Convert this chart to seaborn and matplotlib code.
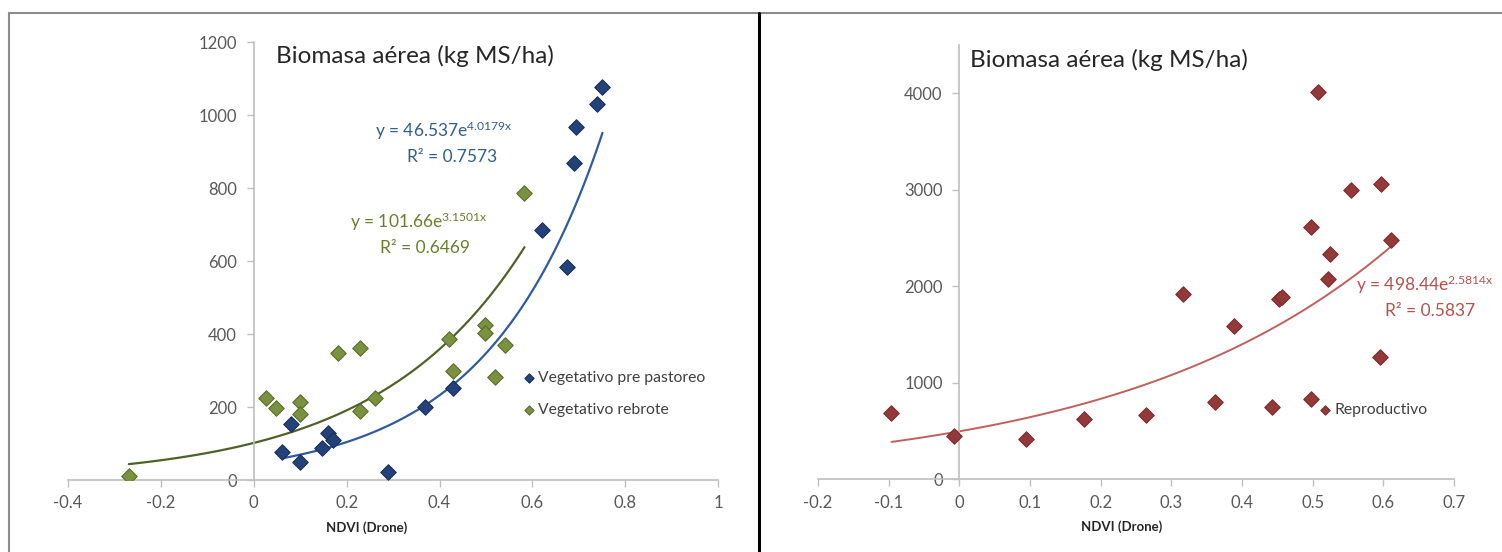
import numpy as np
import pandas as pd
import matplotlib
matplotlib.use('Agg')
import matplotlib.pyplot as plt
from matplotlib.lines import Line2D
from matplotlib.ticker import FuncFormatter
import seaborn as sns

# Vegetativo pre pastoreo
pre_x = [0.060, 0.081, 0.099, 0.148, 0.160, 0.171, 0.290, 0.369, 0.430, 0.620, 0.674, 0.690, 0.693, 0.740, 0.751]
pre_y = [78, 153, 50, 87, 128, 110, 21, 200, 251, 685, 584, 868, 968, 1030, 1077]

# Vegetativo rebrote
reb_x = [-0.269, 0.027, 0.047, 0.099, 0.099, 0.181, 0.229, 0.229, 0.261, 0.420, 0.429, 0.499, 0.499, 0.519, 0.540, 0.583]
reb_y = [11, 224, 196, 214, 181, 349, 363, 190, 224, 385, 299, 424, 404, 281, 370, 787]

# Reproductivo
rep_x = [-0.096, -0.008, 0.095, 0.176, 0.264, 0.316, 0.362, 0.389, 0.443, 0.452, 0.456, 0.498, 0.498,
         0.508, 0.522, 0.524, 0.554, 0.595, 0.597, 0.611]
rep_y = [687, 452, 417, 628, 670, 1926, 798, 1587, 746, 1870, 1895, 833, 2615,
         4010, 2079, 2331, 2999, 1269, 3058, 2480]

# exponential trendlines y = a*e^(b*x) as reported in the chart
pre_fit = (46.537, 4.0179, 0.7573)
reb_fit = (101.66, 3.1501, 0.6469)
rep_fit = (498.44, 2.5814, 0.5837)

sns.set_style('white')
plt.rcParams['font.family'] = ['Lato', 'DejaVu Sans']
plt.rcParams['mathtext.fontset'] = 'custom'
plt.rcParams['mathtext.rm'] = 'Lato'
plt.rcParams['mathtext.it'] = 'Lato'
plt.rcParams['axes.unicode_minus'] = False

blue = '#24427a'
green = '#7a9140'
red = '#93393a'
spine_c = '#bfbfbf'
tick_c = '#595959'


def trend(x, fit):
    xs = np.linspace(min(x), max(x), 100)
    return pd.DataFrame({'x': xs, 'y': fit[0] * np.exp(fit[1] * xs)})


def style_axis(ax, xticks, yticks, xlim, ylim):
    ax.set_xlim(*xlim)
    ax.set_ylim(*ylim)
    ax.set_xticks(xticks)
    ax.set_yticks(yticks)
    ax.xaxis.set_major_formatter(FuncFormatter(lambda v, p: f'{round(v, 2):g}'))
    ax.spines['left'].set_position(('data', 0))
    ax.spines['right'].set_visible(False)
    ax.spines['top'].set_visible(False)
    for s in ['left', 'bottom']:
        ax.spines[s].set_color(spine_c)
        ax.spines[s].set_linewidth(1.2)
    ax.tick_params(axis='both', which='major', direction='out', length=5, width=1,
                   color=spine_c, labelcolor=tick_c, labelsize=12, pad=6,
                   bottom=True, left=True)
    ax.tick_params(axis='y', pad=7)
    ax.set_ylabel('')
    ax.set_xlabel('NDVI (Drone)', fontsize=9.5, fontweight='bold', color='#262626')


fig = plt.figure(figsize=(15.02, 5.52), dpi=100)
ax1 = fig.add_axes([0.0453, 0.1304, 0.4328, 0.7935])
ax2 = fig.add_axes([0.5446, 0.1314, 0.4234, 0.7870])

# left panel
sns.lineplot(data=trend(pre_x, pre_fit), x='x', y='y', ax=ax1, color='#2e5c9e', lw=1.6)
sns.lineplot(data=trend(reb_x, reb_fit), x='x', y='y', ax=ax1, color='#4f6228', lw=1.6)
sns.scatterplot(x=pre_x, y=pre_y, ax=ax1, marker='D', s=62, color=blue, edgecolor='#1a2f57',
                linewidth=0.8, label='Vegetativo pre pastoreo', zorder=3)
sns.scatterplot(x=reb_x, y=reb_y, ax=ax1, marker='D', s=62, color=green, edgecolor='#5a6d2c',
                linewidth=0.8, label='Vegetativo rebrote', zorder=3)
style_axis(ax1, np.arange(-0.4, 1.01, 0.2), np.arange(0, 1201, 200), (-0.4, 1.0), (0, 1200))
ax1.xaxis.set_label_coords(0.46, -0.095)
ax1.text(0.32, 0.968, 'Biomasa aérea (kg MS/ha)', transform=ax1.transAxes,
         fontsize=17.5, color='#262626', va='center', ha='left')
ax1.text(0.41, 956, r'y = 46.537e$^{4.0179x}$', fontsize=12.5, color='#2f5f8f', ha='center', va='center')
ax1.text(0.428, 885, f'R² = {pre_fit[2]}', fontsize=12.5, color='#2f5f8f', ha='center', va='center')
ax1.text(0.356, 707, r'y = 101.66e$^{3.1501x}$', fontsize=12.5, color='#6b7d2f', ha='center', va='center')
ax1.text(0.369, 636, f'R² = {reb_fit[2]}', fontsize=12.5, color='#6b7d2f', ha='center', va='center')
leg1 = ax1.legend(loc='upper left', bbox_to_anchor=(0.697, 0.248), frameon=False, fontsize=11.3,
                  handletextpad=0.1, handlelength=1.0, markerscale=0.6, labelspacing=1.15,
                  borderaxespad=0, borderpad=0)
for t in leg1.get_texts():
    t.set_color('#404040')

# right panel
sns.lineplot(data=trend(rep_x, rep_fit), x='x', y='y', ax=ax2, color='#c0605d', lw=1.4)
sns.scatterplot(x=rep_x, y=rep_y, ax=ax2, marker='D', s=62, color=red, edgecolor='#7a2c2c',
                linewidth=0.8, label='Reproductivo', zorder=3)
style_axis(ax2, np.arange(-0.2, 0.71, 0.1), np.arange(0, 4001, 1000), (-0.2, 0.7), (0, 4500))
ax2.xaxis.set_label_coords(0.478, -0.095)
ax2.text(0.239, 0.965, 'Biomasa aérea (kg MS/ha)', transform=ax2.transAxes,
         fontsize=17.5, color='#262626', va='center', ha='left')
ax2.text(0.562, 2020, r'y = 498.44e$^{2.5814x}$', fontsize=12.5, color='#b5504d',
         ha='left', va='center', clip_on=False)
ax2.text(0.667, 1750, f'R² = {rep_fit[2]}', fontsize=12.5, color='#b5504d',
         ha='center', va='center', clip_on=False)
leg2 = ax2.legend(loc='upper left', bbox_to_anchor=(0.785, 0.176), frameon=False, fontsize=11.3,
                  handletextpad=0.1, handlelength=1.0, markerscale=0.6, borderaxespad=0, borderpad=0)
for t in leg2.get_texts():
    t.set_color('#404040')

# outer frames
W, H = 1502, 552
fig.add_artist(Line2D([8.5 / W, 8.5 / W], [0, 1 - 13 / H], color='#8c8c8c', lw=1.5))
fig.add_artist(Line2D([8.5 / W, 1], [1 - 13 / H, 1 - 13 / H], color='#8c8c8c', lw=1.5))
fig.add_artist(Line2D([759.5 / W, 759.5 / W], [0, 1 - 13 / H], color='black', lw=2.2))

fig.savefig('out.png', dpi=100)
